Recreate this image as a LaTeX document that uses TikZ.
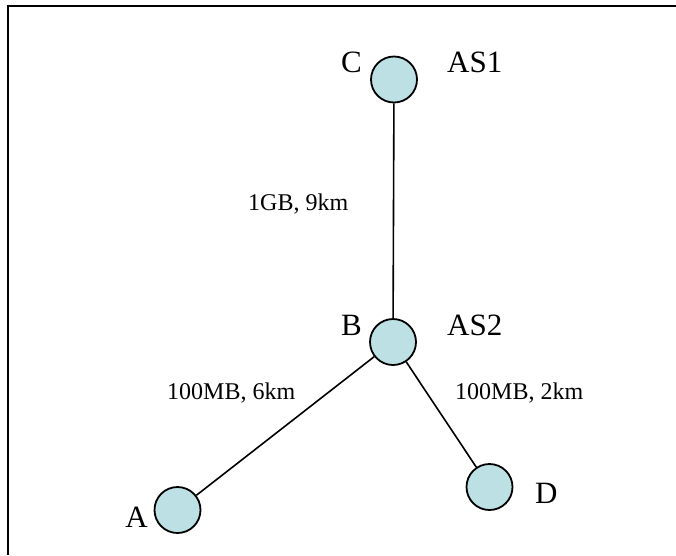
\documentclass[tikz,border=0pt]{standalone}
\usepackage{fontspec}
\setmainfont{Liberation Serif}
\definecolor{nodefill}{RGB}{188,224,228}
\tikzset{
  router/.style={circle, draw=black, line width=1.8pt, fill=nodefill,
                 minimum size=46pt, inner sep=0pt},
  link/.style={draw=black, line width=1.6pt},
  rlabel/.style={font=\fontsize{31}{33}\selectfont, inner sep=0pt},
  linklabel/.style={font=\fontsize{24}{26}\selectfont, inner sep=0pt, anchor=base west}
}
\begin{document}
\begin{tikzpicture}[x=1pt, y=-1pt]
  \useasboundingbox (0,0) rectangle (676,555);
  % frame (top and left edges)
  \draw[line width=2pt] (676,6) -- (8,6) -- (8,555);

  % routers
  \node[router] (C) at (394,79.5) {};
  \node[router] (B) at (393,342) {};
  \node[router] (A) at (177.5,510) {};
  \node[router] (D) at (489.5,487) {};

  % links
  \draw[link] (C) -- (B);
  \draw[link] (B) -- (A);
  \draw[link] (B) -- (D);

  % router names and AS labels
  \node[rlabel, anchor=base east] (Cname) at (362,72) {C};
  \node[rlabel, anchor=base west] (AS1) at (447,72) {AS1};
  \node[rlabel, anchor=base east] (Bname) at (362,335) {B};
  \node[rlabel, anchor=base west] (AS2) at (447,335) {AS2};
  \node[rlabel, anchor=base east] (Aname) at (148,527) {A};
  \node[rlabel, anchor=base west] (Dname) at (535,503) {D};

  % link capacities and lengths
  \node[linklabel] (lCB) at (248,210) {1GB, 9km};
  \node[linklabel] (lBA) at (167,399) {100MB, 6km};
  \node[linklabel] (lBD) at (455,399) {100MB, 2km};
\end{tikzpicture}
\end{document}
